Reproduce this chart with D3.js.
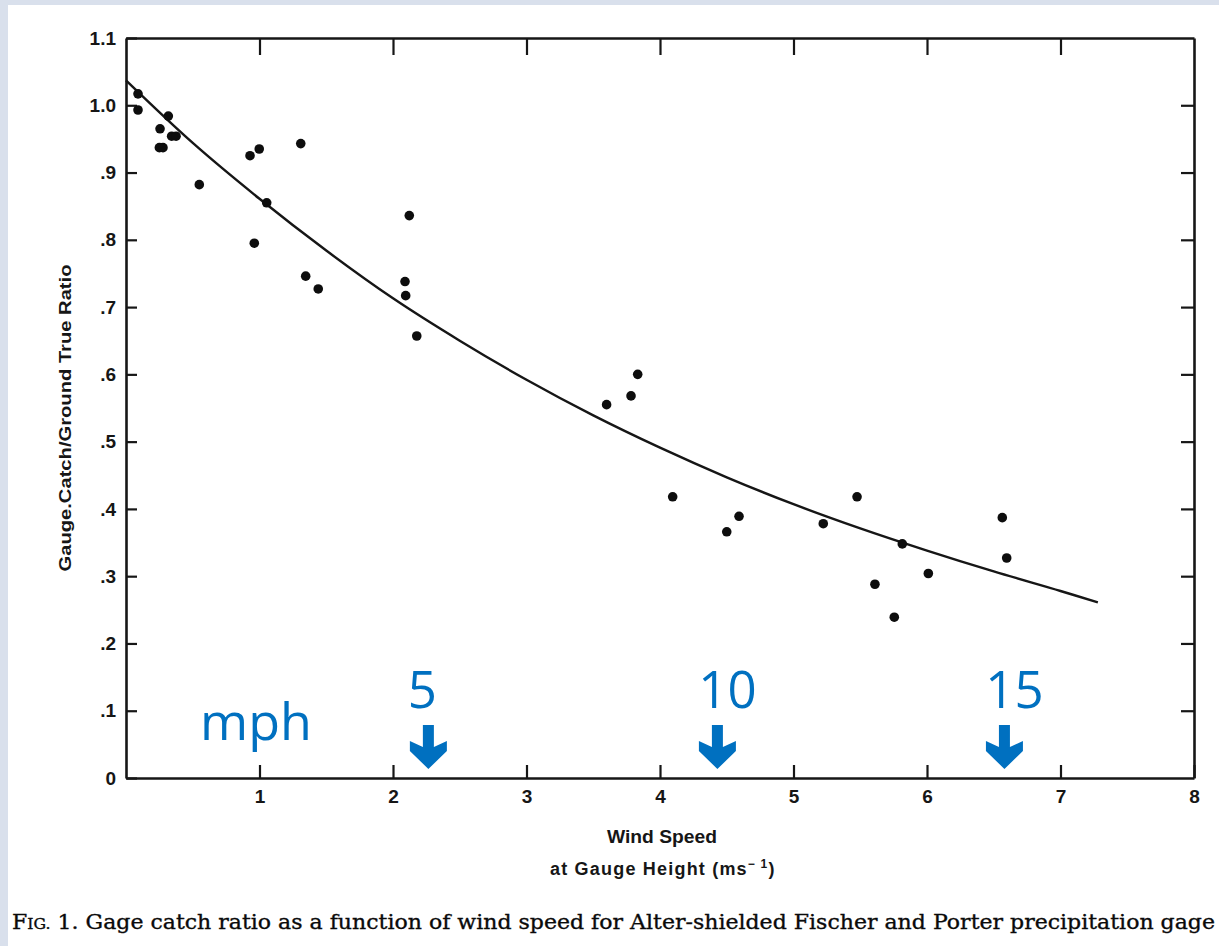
<!DOCTYPE html>
<html>
<head>
<meta charset="utf-8">
<script src="https://cdn.jsdelivr.net/npm/d3@7"></script>
<style>
  html, body { margin: 0; padding: 0; background: #d9e0ec; }
  svg { display: block; }
</style>
</head>
<body>
<div id="chart"></div>
<script>
// observed points (wind speed m/s, gauge catch / ground true ratio)
var windSpeed = [0.09, 0.09, 0.255, 0.25, 0.277, 0.317, 0.342, 0.375, 0.549,
  0.929, 0.998, 0.961, 1.054, 1.309, 1.346, 1.44,
  2.122, 2.09, 2.095, 2.178,
  3.60, 3.783, 3.833, 4.095, 4.50, 4.592,
  5.223, 5.476, 5.61, 5.755, 5.815, 6.01, 6.564, 6.597];
var catchRatio = [1.017, 0.993, 0.965, 0.937, 0.937, 0.984, 0.954, 0.954, 0.882,
  0.925, 0.935, 0.795, 0.855, 0.943, 0.746, 0.727,
  0.836, 0.738, 0.717, 0.657,
  0.555, 0.568, 0.600, 0.418, 0.366, 0.389,
  0.378, 0.418, 0.288, 0.239, 0.348, 0.304, 0.387, 0.327];

// fitted curve
var fitSpeed = [0, 0.5, 1.0, 1.5, 2.0, 2.5, 3.0, 3.5, 4.0, 4.5, 5.0, 5.5, 6.0, 6.5, 7.0, 7.28];
var fitRatio = [1.037, 0.944, 0.861, 0.784, 0.713, 0.650, 0.592, 0.539, 0.491, 0.447, 0.407, 0.371, 0.338, 0.307, 0.278, 0.261];

var xTicks = [1, 2, 3, 4, 5, 6, 7, 8];
var yTicks = [0, 0.1, 0.2, 0.3, 0.4, 0.5, 0.6, 0.7, 0.8, 0.9, 1.0, 1.1];

// blue mph annotations (position in m/s)
var mphLabels = ['5', '10', '15'];
var mphAt = [2.265, 4.43, 6.58];

var W = 1219, H = 946;
var svg = d3.select('#chart').append('svg')
  .attr('width', W)
  .attr('height', H);

svg.append('rect').attr('width', W).attr('height', H).style('fill', '#d9e0ec');
svg.append('rect').attr('x', 8).attr('y', 5).attr('width', W).attr('height', H).style('fill', '#fff');

var x = d3.scaleLinear().domain([0, 8]).range([126, 1194]);
var y = d3.scaleLinear().domain([0, 1.1]).range([778, 38]);

function fmtY(v) {
  if(v === 0) return '0';
  if(v >= 1) return v.toFixed(1);
  return '.' + Math.round(v * 10);
}

var ink = '#161616';

var gL = svg.append('g').attr('transform', 'translate(' + x(0) + ',0)')
  .call(d3.axisLeft(y).tickValues(yTicks).tickFormat(fmtY).tickSize(-11).tickSizeOuter(0).tickPadding(10));
var gB = svg.append('g').attr('transform', 'translate(0,' + y(0) + ')')
  .call(d3.axisBottom(x).tickValues(xTicks).tickFormat(d3.format('d')).tickSize(-13).tickSizeOuter(0).tickPadding(12));
var gT = svg.append('g').attr('transform', 'translate(0,' + y(1.1) + ')')
  .call(d3.axisTop(x).tickValues(xTicks.slice(0, 7)).tickFormat('').tickSize(-17).tickSizeOuter(0));
var gR = svg.append('g').attr('transform', 'translate(' + x(8) + ',0)')
  .call(d3.axisRight(y).tickValues(yTicks.slice(1, 11)).tickFormat('').tickSize(-13).tickSizeOuter(0));

[gL, gB, gT, gR].forEach(function(g) {
  g.select('.domain').style('stroke', ink).style('stroke-width', 2.6);
  g.selectAll('.tick line').style('stroke', ink).style('stroke-width', 2.2);
  g.selectAll('.tick text')
    .style('font-family', '"Liberation Sans", Arial, sans-serif')
    .style('font-weight', 'bold')
    .style('font-size', '19px')
    .style('fill', ink);
});

// fitted curve
var line = d3.line()
  .x(function(d) { return x(d[0]); })
  .y(function(d) { return y(d[1]); })
  .curve(d3.curveCatmullRom);
svg.append('path')
  .datum(fitSpeed.map(function(s, i) { return [s, fitRatio[i]]; }))
  .attr('d', line)
  .style('fill', 'none')
  .style('stroke', ink)
  .style('stroke-width', 2.4);

// points
svg.selectAll('circle.pt')
  .data(windSpeed.map(function(s, i) { return [s, catchRatio[i]]; }))
  .enter().append('circle')
  .attr('class', 'pt')
  .attr('cx', function(d) { return x(d[0]); })
  .attr('cy', function(d) { return y(d[1]); })
  .attr('r', 4.8)
  .style('fill', '#0d0d0d');

// axis titles
var sans = '"Liberation Sans", Arial, sans-serif';
svg.append('text')
  .attr('transform', 'translate(71,418) rotate(-90)')
  .attr('text-anchor', 'middle')
  .attr('textLength', 307)
  .attr('lengthAdjust', 'spacingAndGlyphs')
  .style('font-family', sans).style('font-weight', 'bold').style('font-size', '16px').style('fill', ink)
  .text('Gauge.Catch/Ground True Ratio');

svg.append('text')
  .attr('x', 662).attr('y', 843)
  .attr('text-anchor', 'middle')
  .attr('textLength', 110)
  .attr('lengthAdjust', 'spacingAndGlyphs')
  .style('font-family', sans).style('font-weight', 'bold').style('font-size', '18px').style('fill', ink)
  .text('Wind Speed');

var t2 = svg.append('text')
  .attr('x', 550).attr('y', 875)
  .style('font-family', sans).style('font-weight', 'bold').style('font-size', '18px')
  .style('letter-spacing', '1.2px').style('fill', ink);
t2.append('tspan').text('at Gauge Height (ms');
t2.append('tspan').attr('dy', -7).style('font-size', '12px').text('\u2212 1');
t2.append('tspan').attr('dy', 7).text(')');

// caption
var cap = svg.append('text')
  .attr('x', 12).attr('y', 929)
  .attr('textLength', 1203)
  .attr('lengthAdjust', 'spacingAndGlyphs')
  .style('font-family', '"DejaVu Serif", "Liberation Serif", serif')
  .style('font-size', '21px')
  .style('fill', '#0a0a0a')
  .style('stroke', '#0a0a0a')
  .style('stroke-width', 0.35);
cap.append('tspan').text('F');
cap.append('tspan').style('font-size', '15px').text('IG.');
cap.append('tspan').text(' 1. Gage catch ratio as a function of wind speed for Alter-shielded Fischer and Porter precipitation gage');

// mph annotations
var blue = '#0070c0';
var blueFont = '"Open Sans", "Noto Sans", sans-serif';
svg.append('text')
  .attr('x', 200).attr('y', 740)
  .style('font-family', blueFont).style('font-size', '52px').style('fill', blue)
  .text('mph');

svg.selectAll('text.mph')
  .data(mphLabels)
  .enter().append('text')
  .attr('class', 'mph')
  .attr('x', function(d, i) { return x(mphAt[i]) + (i === 0 ? -6 : 10); })
  .attr('y', 708)
  .attr('text-anchor', 'middle')
  .style('font-family', blueFont).style('font-size', '51px').style('fill', blue)
  .text(function(d) { return d; });

function arrowPath(cx) {
  var top = 725, neck = 741, tip = 769, sw = 5.5, hw = 18.5;
  return 'M' + (cx - sw) + ',' + top + 'L' + (cx + sw) + ',' + top +
    'L' + (cx + sw) + ',' + (neck + 6) + 'L' + (cx + hw) + ',' + neck +
    'L' + (cx + hw) + ',' + (neck + 10) + 'L' + cx + ',' + tip +
    'L' + (cx - hw) + ',' + (neck + 10) + 'L' + (cx - hw) + ',' + neck +
    'L' + (cx - sw) + ',' + (neck + 6) + 'Z';
}
svg.selectAll('path.arrow')
  .data(mphAt)
  .enter().append('path')
  .attr('class', 'arrow')
  .attr('d', function(d) { return arrowPath(x(d)); })
  .style('fill', blue);
</script>
</body>
</html>
